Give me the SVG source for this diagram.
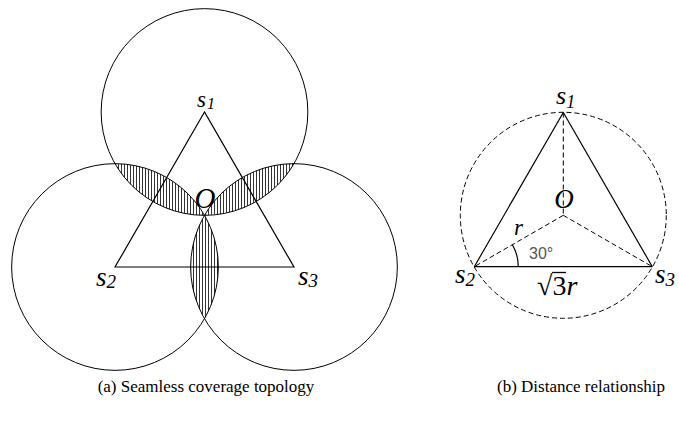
<svg xmlns="http://www.w3.org/2000/svg" width="679" height="426" viewBox="0 0 679 426">
  <defs>
    <pattern id="hatch" patternUnits="userSpaceOnUse" width="3" height="10">
      <line x1="1.5" y1="0" x2="1.5" y2="10" stroke="#000" stroke-width="0.8"/>
    </pattern>
    <style>
      .circ { fill: none; stroke: #000; stroke-width: 1; }
      .dcirc { fill: none; stroke: #000; stroke-width: 1; stroke-dasharray: 5 3; }
      .edge { stroke: #000; stroke-width: 1.2; fill: none; }
      .dash { stroke: #000; stroke-width: 1; fill: none; stroke-dasharray: 5 3; }
      .lens { fill: url(#hatch); stroke: none; }
      .lbl { font-family: "Liberation Serif", "Times New Roman", serif; font-style: italic; fill: #000; }
      .cap { font-family: "Liberation Serif", "Times New Roman", serif; font-size: 17px; fill: #000; }
      .ang { font-family: "Liberation Sans", Arial, sans-serif; font-size: 16px; fill: #555; }
    </style>
  </defs>

  <!-- (a) Seamless coverage topology -->
  <g id="overlaps">
    <path class="lens" d="M115 163.65 A103.35 103.35 0 0 0 204.5 215.33 A103.35 103.35 0 0 0 115 163.65 Z"/>
    <path class="lens" d="M204.5 215.33 A103.35 103.35 0 0 0 294 163.65 A103.35 103.35 0 0 0 204.5 215.33 Z"/>
    <path class="lens" d="M204.5 215.33 A103.35 103.35 0 0 1 204.5 318.68 A103.35 103.35 0 0 1 204.5 215.33 Z"/>
  </g>

  <g id="a-s1">
    <circle class="circ" cx="204.5" cy="112" r="103.35"/>
    <text class="lbl" x="197" y="107" font-size="23">s<tspan font-size="16" dx="1" dy="2">1</tspan></text>
  </g>
  <g id="a-s2">
    <circle class="circ" cx="115" cy="267" r="103.35"/>
    <text class="lbl" x="96" y="286" font-size="27">s<tspan font-size="19" dy="2">2</tspan></text>
  </g>
  <g id="a-s3">
    <circle class="circ" cx="294" cy="267" r="103.35"/>
    <text class="lbl" x="298" y="285" font-size="27">s<tspan font-size="19" dy="2">3</tspan></text>
  </g>
  <g id="a-O">
    <text class="lbl" x="205" y="208" font-size="29" text-anchor="middle">O</text>
  </g>

  <g id="a-connectors">
    <path class="edge" d="M204.5 112 L115 267 L294 267 Z"/>
  </g>

  <!-- (b) Distance relationship -->
  <g id="b-circle">
    <circle class="dcirc" cx="563.3" cy="215.3" r="103"/>
  </g>
  <g id="b-connectors">
    <line class="edge" x1="563.3" y1="112.5" x2="474.3" y2="266.7"/>
    <line class="edge" x1="563.3" y1="112.5" x2="652.3" y2="266.7"/>
    <line class="edge" x1="474.3" y1="266.7" x2="652.3" y2="266.7"/>
    <line class="dash" x1="563.3" y1="112.5" x2="563.3" y2="215.3"/>
    <line class="dash" x1="563.3" y1="215.3" x2="474.3" y2="266.7"/>
    <line class="dash" x1="563.3" y1="215.3" x2="652.3" y2="266.7"/>
    <path class="edge" stroke-width="1" d="M518.3 266.7 A44 44 0 0 0 512.4 244.7"/>
  </g>
  <g id="b-s1">
    <text class="lbl" x="556" y="104" font-size="26">s<tspan font-size="18" dy="4">1</tspan></text>
  </g>
  <g id="b-s2">
    <text class="lbl" x="455" y="283" font-size="27">s<tspan font-size="19" dy="3">2</tspan></text>
  </g>
  <g id="b-s3">
    <text class="lbl" x="655" y="283" font-size="27">s<tspan font-size="19" dy="3">3</tspan></text>
  </g>
  <g id="b-O">
    <text class="lbl" x="564" y="208" font-size="27" text-anchor="middle">O</text>
  </g>
  <g id="b-labels">
    <text class="lbl" x="514" y="235" font-size="23">r</text>
    <text class="ang" x="529" y="259">30°</text>
    <text x="537" y="295" font-family="Liberation Serif, Times New Roman, serif" font-size="28">√<tspan>3</tspan><tspan font-style="italic">r</tspan></text>
    <line x1="552" y1="272.5" x2="566" y2="272.5" stroke="#000" stroke-width="1.3"/>
  </g>

  <g id="captions">
    <text class="cap" x="206" y="392" text-anchor="middle">(a) Seamless coverage topology</text>
    <text class="cap" x="497" y="392">(b) Distance relationship</text>
  </g>
</svg>
